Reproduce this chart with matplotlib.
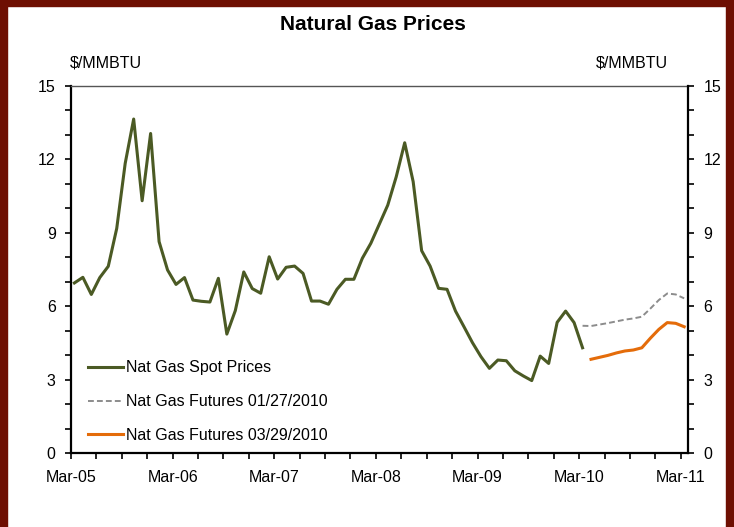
import matplotlib
matplotlib.use("Agg")
import matplotlib.pyplot as plt
import matplotlib.transforms as mtransforms
from matplotlib.patches import Rectangle
from matplotlib.ticker import MultipleLocator
import numpy as np

plt.rcParams['font.family'] = ['Liberation Sans', 'DejaVu Sans']

# monthly spot prices, Mar-05 .. Mar-10 ($/MMBTU)
spot = [6.95, 7.18, 6.48, 7.17, 7.63, 9.18, 11.84, 13.65, 10.31, 13.06,
        8.64, 7.48, 6.89, 7.17, 6.25, 6.20, 6.17, 7.14, 4.86, 5.82,
        7.40, 6.72, 6.53, 8.02, 7.11, 7.59, 7.64, 7.34, 6.21, 6.21,
        6.08, 6.69, 7.10, 7.10, 7.96, 8.57, 9.35, 10.13, 11.29, 12.68,
        11.09, 8.27, 7.64, 6.73, 6.69, 5.80, 5.16, 4.51, 3.94, 3.46,
        3.80, 3.77, 3.36, 3.15, 2.96, 3.96, 3.66, 5.34, 5.80, 5.33, 4.30]
# futures curve as of 01/27/2010, Mar-10 .. Mar-11
fut_jan = [5.20, 5.19, 5.25, 5.31, 5.38, 5.45, 5.50, 5.57, 5.90, 6.25,
           6.52, 6.48, 6.32]
# futures curve as of 03/29/2010, Apr-10 .. Mar-11
fut_mar = [3.83, 3.91, 3.99, 4.09, 4.17, 4.21, 4.30, 4.69, 5.05, 5.33,
           5.30, 5.16]
year_labels = ['Mar-05', 'Mar-06', 'Mar-07', 'Mar-08', 'Mar-09', 'Mar-10', 'Mar-11']

fs = 11.5

fig = plt.figure(figsize=(7.34, 5.27), dpi=100)
ax = fig.add_axes([71/734, 1 - 453/527, 617/734, 367/527])

off = 0.4  # mid-month placement
x_spot = np.arange(len(spot)) + off
x_jan = np.arange(60, 60 + len(fut_jan)) + off
x_mar = np.arange(61, 61 + len(fut_mar)) + off

ax.plot(x_spot, spot, color='#4B5A24', lw=2.2, label='Nat Gas Spot Prices')
ax.plot(x_jan, fut_jan, color='#8C8C8C', lw=1.4, ls=(0, (3, 1.6)),
        label='Nat Gas Futures 01/27/2010')
ax.plot(x_mar, fut_mar, color='#E46C0A', lw=2.2, label='Nat Gas Futures 03/29/2010')

ax.set_xlim(0, 72.85)
ax.set_ylim(0, 15)
ax.yaxis.set_major_locator(MultipleLocator(3))
ax.yaxis.set_minor_locator(MultipleLocator(1))
ax.set_xticks(np.arange(0, 73, 3))
ax.set_xticklabels([year_labels[i // 12] if i % 12 == 0 else '' for i in range(0, 73, 3)])
shift = mtransforms.ScaledTranslation(4/100, 0, fig.dpi_scale_trans)
for lab in ax.get_xticklabels():
    lab.set_transform(lab.get_transform() + shift)

ax.tick_params(axis='x', direction='out', length=4, width=1.2, pad=8, labelsize=fs)
ax.tick_params(axis='y', which='both', direction='out', length=4, width=1.2,
               pad=7, labelsize=fs)

for s in ['left', 'bottom']:
    ax.spines[s].set_linewidth(1.6)
ax.spines['right'].set_visible(False)
ax.spines['top'].set_color('#555555')
ax.spines['top'].set_linewidth(1.0)

ax2 = ax.twinx()
ax2.set_ylim(0, 15)
ax2.yaxis.set_major_locator(MultipleLocator(3))
ax2.yaxis.set_minor_locator(MultipleLocator(1))
ax2.tick_params(axis='y', which='both', direction='out', length=4, width=1.2,
                pad=7, labelsize=fs)
ax2.spines['right'].set_linewidth(1.6)
for s in ['left', 'bottom', 'top']:
    ax2.spines[s].set_visible(False)

ax.legend(loc='center left', bbox_to_anchor=(0.027, 0.14), frameon=False,
          fontsize=fs, handlelength=2.2, handletextpad=0.2, labelspacing=1.17,
          borderpad=0, borderaxespad=0)

fig.text(373/734, 1 - 25/527, 'Natural Gas Prices', ha='center', va='center',
         fontsize=15, fontweight='bold')
fig.text(70/734, 1 - 63/527, '$/MMBTU', ha='left', va='center', fontsize=fs)
fig.text(668/734, 1 - 63/527, '$/MMBTU', ha='right', va='center', fontsize=fs)

border = '#6E0F02'
fig.patches.append(Rectangle((0, 0), 7/734, 1, transform=fig.transFigure,
                             color=border, zorder=10))
fig.patches.append(Rectangle((1 - 8/734, 0), 8/734, 1, transform=fig.transFigure,
                             color=border, zorder=10))
fig.patches.append(Rectangle((0, 1 - 6/527), 1, 6/527, transform=fig.transFigure,
                             color=border, zorder=10))

fig.savefig('out.png', dpi=100)
